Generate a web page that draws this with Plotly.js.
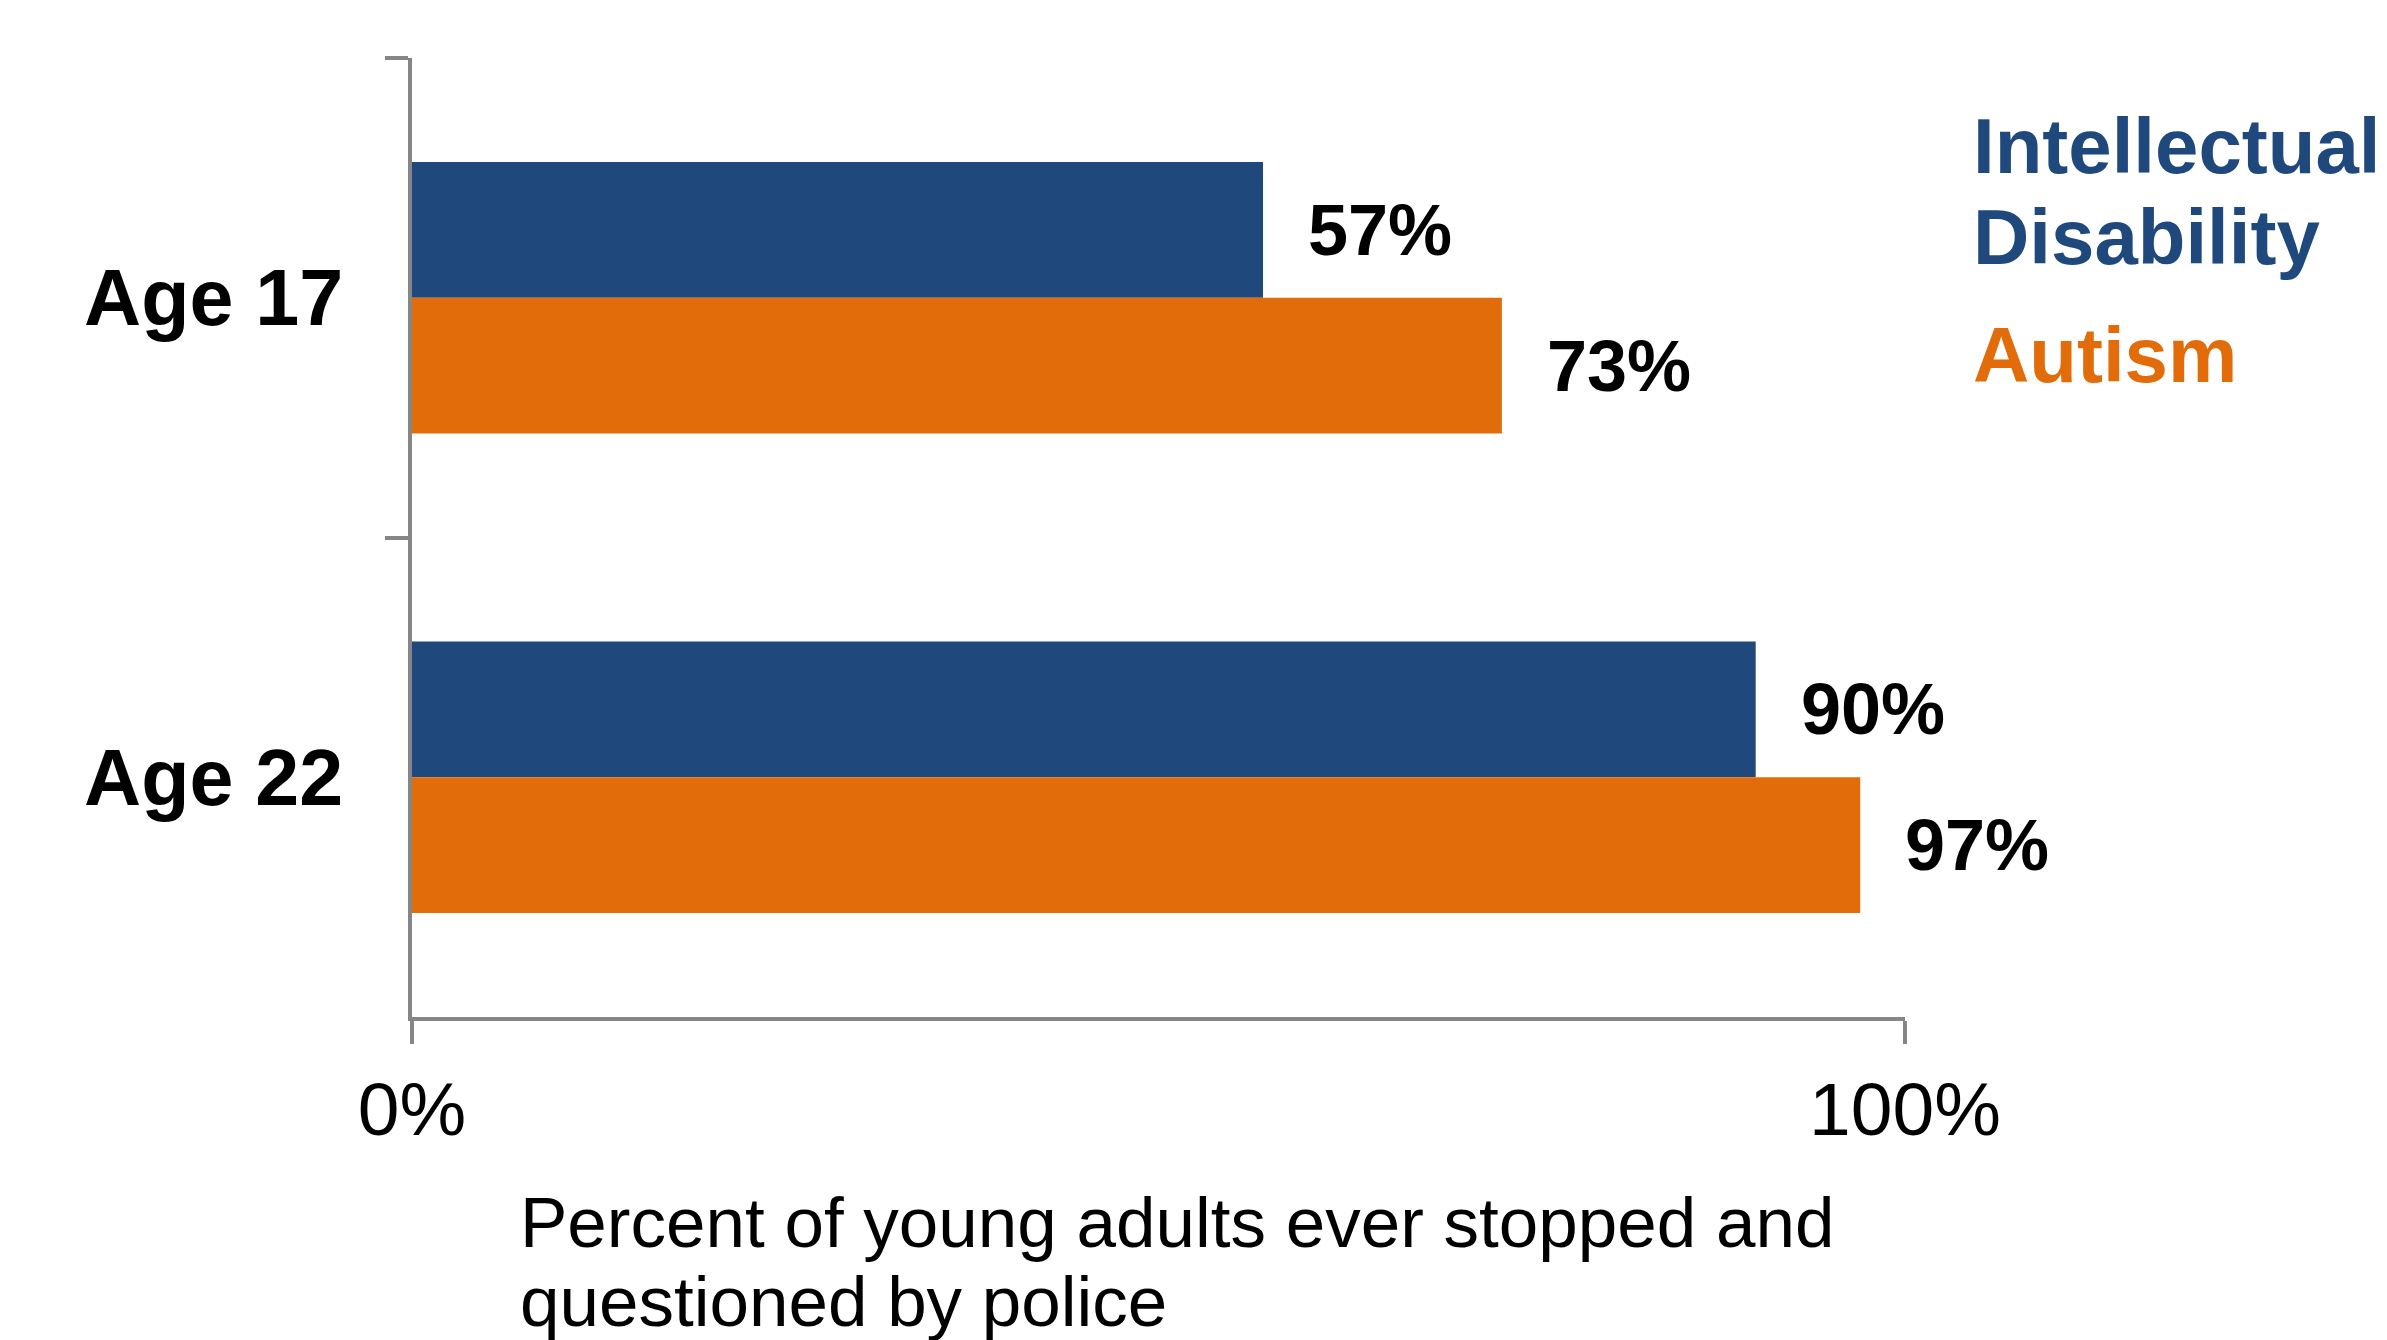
<!DOCTYPE html>
<html>
<head>
<meta charset="utf-8">
<script src="https://cdn.plot.ly/plotly-3.0.1.min.js"></script>
<style>html,body{margin:0;padding:0;background:#fff;}#chart{width:2387px;height:1340px;}</style>
</head>
<body>
<div id="chart"></div>
<script>
// ---- data ----
const categories = ['Age 17', 'Age 22'];
const seriesNames = ['Intellectual Disability', 'Autism'];
const intellectualDisability = [0.57, 0.90];
const autism = [0.73, 0.97];
const xTickVals = [0, 1];
const xTickText = ['0%', '100%'];
const axisTitleLines = ['Percent of young adults ever stopped and', 'questioned by police'];

// ---- style ----
const BLUE = '#1F497D';
const ORANGE = '#E36C0A';
const GRAY = '#868686';
const FONT = 'Liberation Sans, Arial, sans-serif';

const W = 2387, H = 1340;
const M = {l: 412, r: 482, t: 58, b: 323};
const plotW = W - M.l - M.r, plotH = H - M.t - M.b;
const px2x = px => (px - M.l) / plotW;
const py2y = py => (H - M.b - py) / plotH;

const series = [intellectualDisability, autism];
const colors = [BLUE, ORANGE];

const traces = series.map((vals, i) => ({
  type: 'bar',
  orientation: 'h',
  name: seriesNames[i],
  x: vals,
  y: categories,
  marker: {color: colors[i], line: {width: 0}},
  hoverinfo: 'skip'
}));

const annotations = [];
// value labels beside each bar
const barHalf = 68;
series.forEach((vals, i) => {
  vals.forEach((v, j) => {
    annotations.push({
      x: v, y: categories[j], xref: 'x', yref: 'y',
      text: Math.round(v * 100) + '%',
      showarrow: false, xanchor: 'left', yanchor: 'middle',
      xshift: 43, yshift: i === 0 ? barHalf : -barHalf,
      font: {family: FONT, size: 72, color: '#000', weight: 'bold'}
    });
  });
});
// legend-style labels
const legendLines = [
  {text: seriesNames[0].split(' ')[0], color: BLUE, py: 146},
  {text: seriesNames[0].split(' ')[1], color: BLUE, py: 237},
  {text: seriesNames[1], color: ORANGE, py: 355}
];
legendLines.forEach(l => annotations.push({
  xref: 'paper', yref: 'paper', x: px2x(1971), y: py2y(l.py),
  text: l.text, showarrow: false, xanchor: 'left', yanchor: 'middle',
  font: {family: FONT, size: 78, color: l.color, weight: 'bold'}
}));
// axis title (two lines)
[1222, 1301].forEach((py, k) => annotations.push({
  xref: 'paper', yref: 'paper', x: px2x(518), y: py2y(py),
  text: axisTitleLines[k], showarrow: false, xanchor: 'left', yanchor: 'middle',
  font: {family: FONT, size: 71, color: '#000'}
}));

const layout = {
  width: W, height: H,
  margin: M,
  paper_bgcolor: '#fff', plot_bgcolor: '#fff',
  showlegend: false,
  barmode: 'group',
  bargap: 0.434,
  bargroupgap: 0,
  xaxis: {
    range: [0, 1],
    tickvals: xTickVals, ticktext: xTickText,
    showgrid: false, zeroline: false,
    showline: true, linecolor: GRAY, linewidth: 4,
    ticks: 'outside', ticklen: 23, tickwidth: 4, tickcolor: GRAY,
    tickfont: {family: FONT, size: 75, color: '#000'},
    ticklabelstandoff: 1
  },
  yaxis: {
    type: 'category',
    autorange: 'reversed',
    tickson: 'boundaries',
    showgrid: false, zeroline: false,
    showline: true, linecolor: GRAY, linewidth: 4,
    ticks: 'outside', ticklen: 23, tickwidth: 4, tickcolor: GRAY,
    tickfont: {family: FONT, size: 79, color: '#000', weight: 'bold'},
    ticklabelstandoff: 49
  },
  annotations: annotations
};

Plotly.newPlot('chart', traces, layout, {staticPlot: true, displayModeBar: false});
</script>
</body>
</html>
